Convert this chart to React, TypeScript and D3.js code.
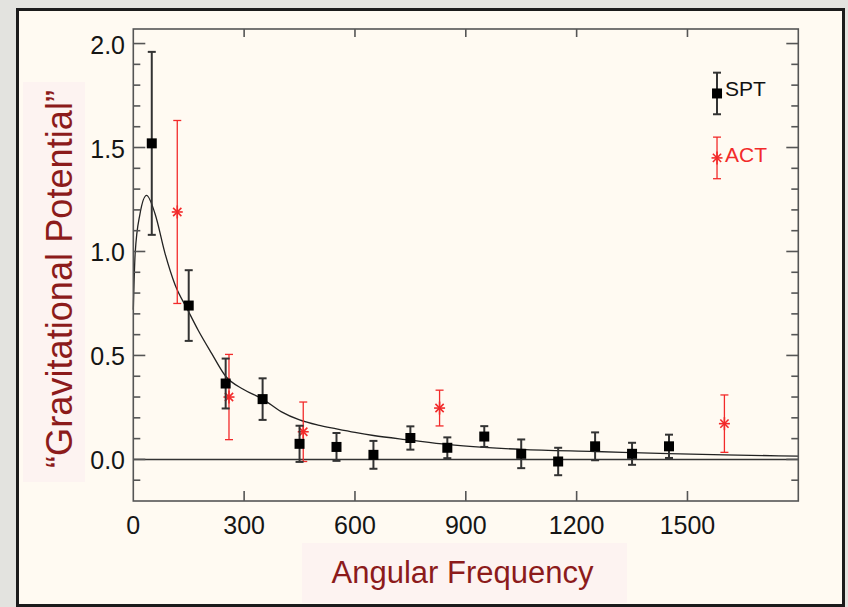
import React from "react";
import * as d3 from "d3";

// ---- data ----
const sptX = [50, 150, 250, 350, 450, 550, 650, 750, 850, 950, 1050, 1150, 1250, 1350, 1450];
const sptY = [1.52, 0.74, 0.365, 0.29, 0.075, 0.06, 0.022, 0.103, 0.056, 0.11, 0.027, -0.01, 0.063, 0.027, 0.063];
const sptErr = [0.44, 0.17, 0.12, 0.1, 0.087, 0.067, 0.067, 0.056, 0.05, 0.05, 0.069, 0.066, 0.067, 0.053, 0.056];

const actX = [119, 259, 460, 829, 1600];
const actY = [1.19, 0.3, 0.133, 0.247, 0.172];
const actErr = [0.44, 0.205, 0.143, 0.086, 0.138];

const modelX = [0, 5, 18, 36, 59, 86, 113, 147, 176, 212, 250, 300, 350, 400, 450, 500, 550, 600, 650, 750, 850, 950, 1050, 1250, 1450, 1600, 1800];
const modelY = [0.72, 0.99, 1.18, 1.27, 1.18, 0.99, 0.84, 0.72, 0.62, 0.51, 0.4, 0.335, 0.29, 0.23, 0.19, 0.165, 0.147, 0.13, 0.115, 0.093, 0.072, 0.058, 0.048, 0.038, 0.028, 0.022, 0.016];

const xTicks = [0, 300, 600, 900, 1200, 1500];
const yTicks = [0.0, 0.5, 1.0, 1.5, 2.0];
const yMinor = [-0.1, 0.1, 0.2, 0.3, 0.4, 0.6, 0.7, 0.8, 0.9, 1.1, 1.2, 1.3, 1.4, 1.6, 1.7, 1.8, 1.9];

const legendItems = ["SPT", "ACT"];
const legendY = [1.76, 1.45];
const legendX = 1580;
const legendErr = 0.1;

const xTitle = "Angular Frequency";
const yTitle = "\u201CGravitational Potential\u201D";

const W = 848;
const H = 607;
const FONT = "'Liberation Sans', Arial, Helvetica, sans-serif";
const RED = "#f22a2a";
const TITLE = "#8c1b1b";
const AXIS = "#555";

export default function App() {
  const x = d3.scaleLinear().domain([0, 1800]).range([133.3, 798.3]);
  const y = d3.scaleLinear().domain([-0.2, 2.07]).range([501, 29]);
  const [x0, x1] = x.range();
  const [y0, y1] = y.range();

  const line = d3
    .line<number>()
    .x((_, i) => x(modelX[i]))
    .y((d) => y(d))
    .curve(d3.curveMonotoneX);

  const cap = 4;

  const spt = (cx: number, cy: number, top: number, bot: number, key: string) => (
    <g key={key}>
      <line x1={cx} x2={cx} y1={top} y2={bot} stroke="#333" strokeWidth={2} />
      <line x1={cx - cap} x2={cx + cap} y1={top} y2={top} stroke="#333" strokeWidth={2} />
      <line x1={cx - cap} x2={cx + cap} y1={bot} y2={bot} stroke="#333" strokeWidth={2} />
      <rect x={cx - 5} y={cy - 5} width={10} height={10} fill="#000" />
    </g>
  );

  const act = (cx: number, cy: number, top: number, bot: number, key: string) => {
    const s = 5.5;
    return (
      <g key={key} stroke={RED}>
        <line x1={cx} x2={cx} y1={top} y2={bot} strokeWidth={1.3} />
        <line x1={cx - cap} x2={cx + cap} y1={top} y2={top} strokeWidth={1.3} />
        <line x1={cx - cap} x2={cx + cap} y1={bot} y2={bot} strokeWidth={1.3} />
        <line x1={cx - s} x2={cx + s} y1={cy} y2={cy} strokeWidth={1.6} />
        <line x1={cx} x2={cx} y1={cy - s - 1} y2={cy + s + 1} strokeWidth={1.6} />
        <line x1={cx - s * 0.75} x2={cx + s * 0.75} y1={cy - s * 0.75} y2={cy + s * 0.75} strokeWidth={1.6} />
        <line x1={cx - s * 0.75} x2={cx + s * 0.75} y1={cy + s * 0.75} y2={cy - s * 0.75} strokeWidth={1.6} />
      </g>
    );
  };

  return (
    <div style={{ position: "absolute", left: 0, top: 0 }}>
      <svg width={W} height={H} style={{ display: "block" }}>
        <rect x={0} y={0} width={W} height={H} fill="#e3e3df" />
        {/* panel */}
        <rect x={17.5} y={9.5} width={826} height={596} fill="#fffaf2" stroke="#1b1b1b" strokeWidth={3} />
        {/* title backgrounds */}
        <rect x={23} y={82} width={62} height={400} fill="#fdf3f1" />
        <rect x={302} y={543} width={325} height={60} fill="#fdf3f1" />

        {/* zero line */}
        <line x1={x0} x2={x1} y1={y(0)} y2={y(0)} stroke="#333" strokeWidth={1.5} />

        {/* model curve */}
        <path d={line(modelY) || ""} fill="none" stroke="#222" strokeWidth={1.3} />

        {/* frame */}
        <rect x={x0} y={y1} width={x1 - x0} height={y0 - y1} fill="none" stroke={AXIS} strokeWidth={1.6} />

        {/* x ticks */}
        {xTicks.filter((t) => t > 0).map((t) => (
          <g key={"xt" + t} stroke={AXIS} strokeWidth={1.6}>
            <line x1={x(t)} x2={x(t)} y1={y0} y2={y0 - 10} />
            <line x1={x(t)} x2={x(t)} y1={y1} y2={y1 + 8} />
          </g>
        ))}
        {xTicks.map((t) => (
          <text key={"xl" + t} x={x(t)} y={534} textAnchor="middle" fontFamily={FONT} fontSize={25} fill="#151515">
            {t}
          </text>
        ))}

        {/* y ticks */}
        {yTicks.map((t) => (
          <g key={"yt" + t} stroke={AXIS} strokeWidth={1.6}>
            <line x1={x0} x2={x0 + 12} y1={y(t)} y2={y(t)} />
            <line x1={x1} x2={x1 - 12} y1={y(t)} y2={y(t)} />
          </g>
        ))}
        {yMinor.map((t) => (
          <g key={"ym" + t} stroke={AXIS} strokeWidth={1.6}>
            <line x1={x0} x2={x0 + 7} y1={y(t)} y2={y(t)} />
            <line x1={x1} x2={x1 - 7} y1={y(t)} y2={y(t)} />
          </g>
        ))}
        {yTicks.map((t) => (
          <text key={"yl" + t} x={125} y={y(t) + 10} textAnchor="end" fontFamily={FONT} fontSize={25} fill="#151515">
            {t.toFixed(1)}
          </text>
        ))}

        {/* data */}
        {actX.map((v, i) =>
          act(x(v), y(actY[i]), y(actY[i] + actErr[i]), y(actY[i] - actErr[i]), "a" + i)
        )}
        {sptX.map((v, i) =>
          spt(x(v), y(sptY[i]), y(sptY[i] + sptErr[i]), y(sptY[i] - sptErr[i]), "s" + i)
        )}

        {/* legend */}
        {legendItems.map((name, i) => {
          const cx = x(legendX);
          const cy = y(legendY[i]);
          const mark =
            i === 0
              ? spt(cx, cy, y(legendY[i] + legendErr), y(legendY[i] - legendErr), "ls")
              : act(cx, cy, y(legendY[i] + legendErr), y(legendY[i] - legendErr), "la");
          return (
            <g key={name}>
              {mark}
              <text x={cx + 8} y={cy + 3 + (i === 0 ? 0 : 1)} fontFamily={FONT} fontSize={21} fill={i === 0 ? "#111" : RED}>
                {name}
              </text>
            </g>
          );
        })}

        {/* titles */}
        <text x={462.5} y={583} textAnchor="middle" fontFamily={FONT} fontSize={31} fill={TITLE}>
          {xTitle}
        </text>
        <text
          transform="translate(71.5,279) rotate(-90)"
          textAnchor="middle"
          fontFamily={FONT}
          fontSize={37}
          fill={TITLE}
          textLength={378}
          lengthAdjust="spacingAndGlyphs"
        >
          {yTitle}
        </text>
      </svg>
    </div>
  );
}
